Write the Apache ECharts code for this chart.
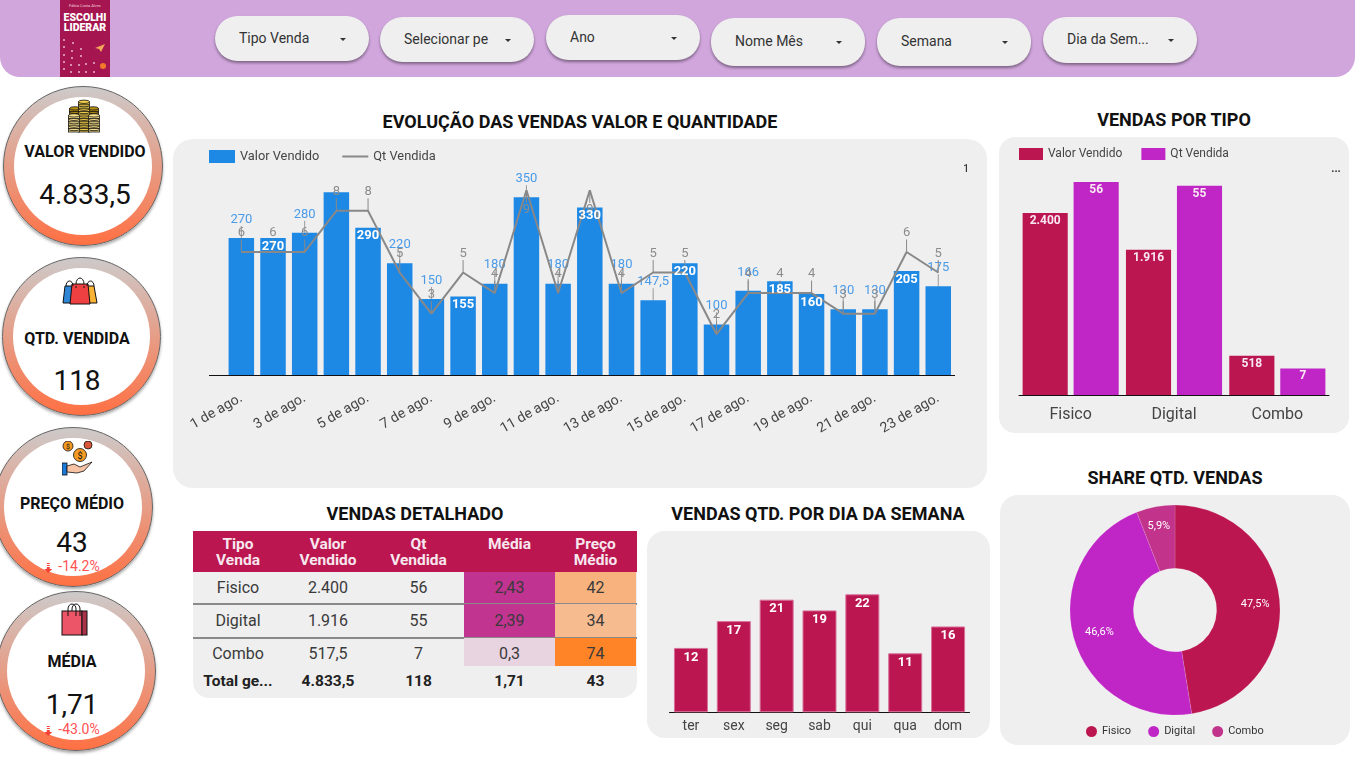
<!DOCTYPE html>
<html lang="pt-BR"><head><meta charset="utf-8">
<script src="https://cdn.jsdelivr.net/npm/echarts@6/dist/echarts.min.js"></script>
<style>
html,body{margin:0;padding:0;background:#fff;width:1355px;height:757px;overflow:hidden;font-family:Roboto,sans-serif}
.abs{position:absolute}
#hdr{left:0;top:0;width:1355px;height:77px;background:#d1a6dd;border-radius:0 0 20px 20px}
#book{left:60px;top:0;width:50px;height:77px;background:#a5154f;color:#fff;overflow:hidden}
.pill{position:absolute;width:154px;background:#efefef;border-radius:23px;box-shadow:0 2px 3px rgba(0,0,0,.4);font-size:14px;color:#333}
.pill span{position:absolute;left:24px;white-space:nowrap}
.pill i{position:absolute;left:125px;width:0;height:0;border-left:3px solid transparent;border-right:3px solid transparent;border-top:3px solid #333}
.panel{position:absolute;background:#efefef}
.title{position:absolute;font-weight:700;font-size:18px;color:#111;text-align:center;white-space:nowrap;transform:translate(-50%,-50%)}
.kpi{position:absolute;border-radius:50%;box-sizing:border-box;border:1px solid #666;background:linear-gradient(#cdcaca,#ff7043);box-shadow:0 2px 3px rgba(0,0,0,.35)}
.kpi .in{position:absolute;left:10px;top:10px;right:10px;bottom:10px;border-radius:50%;background:#fff}
.t{position:absolute;white-space:nowrap;transform:translate(-50%,-50%)}
.kl{font-weight:700;font-size:16px;color:#111}
.kv{font-size:28px;color:#111}
.kd{font-size:14px;color:#ff5252;display:flex;align-items:center;gap:6px}
#tbl{position:absolute;left:193px;top:531px;width:444px;height:167px;background:#efefef;border-radius:0 0 16px 16px;overflow:hidden;font-size:16px;color:#3a3a3a}
#tbl div{position:absolute;display:flex;align-items:center;justify-content:center;text-align:center;box-sizing:border-box}
.chart{position:absolute}
</style></head><body>
<div id="hdr" class="abs"></div>
<div id="book" class="abs">
 <div class="t" style="left:25px;top:5px;font-size:4px;color:#f3c9d6">Fábia Costa Alves</div>
 <div style="position:absolute;left:0;width:50px;top:13px;text-align:center;font-weight:900;font-size:10.5px;line-height:9.500px">ESCOLHI<br>LIDERAR</div>
 <svg width="50" height="77" style="position:absolute;left:0;top:0"><g fill="#e9b7c9"><circle cx="4" cy="40" r="1"/><circle cx="13" cy="43" r="1"/><circle cx="4" cy="47" r="1"/><circle cx="12" cy="51" r="1"/><circle cx="21" cy="49" r="1"/><circle cx="4" cy="55" r="1"/><circle cx="12" cy="58" r="1"/><circle cx="21" cy="56" r="1"/><circle cx="4" cy="62" r="1"/><circle cx="11" cy="65" r="1"/><circle cx="19" cy="65" r="1"/><circle cx="26" cy="64" r="1"/><circle cx="34" cy="63" r="1"/><circle cx="4" cy="69" r="1"/><circle cx="11" cy="72" r="1"/><circle cx="19" cy="72" r="1"/><circle cx="26" cy="72" r="1"/><circle cx="34" cy="72" r="1"/></g><path d="M35 48l10-4-4 8-2-3z" fill="#f2a65a"/><circle cx="43" cy="66" r="3" fill="#f07a2a"/></svg>
</div>
<div id="pills"></div>

<div class="panel" style="left:173px;top:139px;width:814px;height:349px;border-radius:20px"></div>
<div class="panel" style="left:999px;top:137px;width:350px;height:296px;border-radius:16px"></div>
<div class="panel" style="left:647px;top:531px;width:343px;height:207px;border-radius:18px"></div>
<div class="panel" style="left:1000px;top:495px;width:350px;height:250px;border-radius:18px"></div>

<div class="title" style="left:580px;top:121px">EVOLUÇÃO DAS VENDAS VALOR E QUANTIDADE</div>
<div class="title" style="left:1174px;top:119px">VENDAS POR TIPO</div>
<div class="title" style="left:415px;top:513px">VENDAS DETALHADO</div>
<div class="title" style="left:818px;top:513px">VENDAS QTD. POR DIA DA SEMANA</div>
<div class="title" style="left:1175px;top:477px">SHARE QTD. VENDAS</div>

<div id="kpis"></div>
<div id="tbl"></div>

<div id="cMain" class="chart" style="left:173px;top:139px;width:814px;height:349px"></div>
<div class="abs" style="left:209px;top:375px;width:746px;height:1px;background:#111"></div>
<div class="t" style="left:966px;top:168px;font-size:10px;color:#333;font-weight:500">1</div>
<div id="cType" class="chart" style="left:999px;top:137px;width:350px;height:296px"></div>
<div class="t" style="left:1336px;top:168px;font-size:11px;color:#333;font-weight:700">...</div>
<div id="cDay" class="chart" style="left:647px;top:531px;width:343px;height:207px"></div>
<div id="cPie" class="chart" style="left:1000px;top:495px;width:350px;height:250px"></div>

<script>
// ---- data ----
const days = ['1 de ago.','2 de ago.','3 de ago.','4 de ago.','5 de ago.','6 de ago.','7 de ago.','8 de ago.','9 de ago.','10 de ago.','11 de ago.','12 de ago.','13 de ago.','14 de ago.','15 de ago.','16 de ago.','17 de ago.','18 de ago.','19 de ago.','20 de ago.','21 de ago.','22 de ago.','23 de ago.'];
const dailyValor = [270,270,280,360,290,220,150,155,180,350,180,330,180,147.5,220,100,166,185,160,130,130,205,175];
const dailyQt = [6,6,6,8,8,5,3,5,4,9,4,9,4,5,5,2,4,4,4,3,3,6,5];
const tipos = ['Fisico','Digital','Combo'];
const tipoValor = [2400,1916,517.5];
const tipoValorTexto = ['2.400','1.916','517,5'];
const tipoQt = [56,55,7];
const tipoMedia = ['2,43','2,39','0,3'];
const tipoPreco = ['42','34','74'];
const semana = ['ter','sex','seg','sab','qui','qua','dom'];
const semanaQt = [12,17,21,19,22,11,16];
const shareLabels = ['47,5%','46,6%','5,9%'];
const tableHead = ['Tipo<br>Venda','Valor<br>Vendido','Qt<br>Vendida','Média','Preço<br>Médio'];
const tableTotal = ['Total ge...','4.833,5','118','1,71','43'];
const filtros = ['Tipo Venda','Selecionar pe','Ano','Nome Mês','Semana','Dia da Sem...'];
const kpiNames = ['VALOR VENDIDO','QTD. VENDIDA','PREÇO MÉDIO','MÉDIA'];
const kpiValues = ['4.833,5','118','43','1,71'];
const kpiDeltas = ['','','-14.2%','-43.0%'];

// ---- styling tables ----
const FONT='Roboto';
const ROSE='#bc1651', PURPLE='#c026c6', MAG='#c2338b', BLUE='#1e88e5';
const insideIdx=[1,4,7,11,14,17,18,21], hiddenIdx=[3], qtBelowIdx=[9,11];
const fmt=v=>Math.round(v).toLocaleString('de-DE');
const fmtDec=v=>String(v).replace('.',',');

// filters
const pillGeo=[[215,16,45],[380,17,45],[546,15,45],[711,18,48],[877,18,48],[1043,17,46]];
document.getElementById('pills').innerHTML=filtros.map((f,i)=>{const[x,y,h]=pillGeo[i];
 return `<div class="pill" style="left:${x}px;top:${y}px;height:${h}px"><span style="top:${h/2-9}px">${f}</span><i style="top:${h/2-1}px"></i></div>`}).join('');

// KPI icons
const stack=(x,yb,n,fill)=>{let s='';for(let k=0;k<n;k++){const y=yb-k*3.4;s+=`<rect x="${x-5.5}" y="${y-3}" width="11" height="3" fill="${fill}" stroke="#111" stroke-width=".8"/><ellipse cx="${x}" cy="${y-3}" rx="5.5" ry="1.700" fill="${fill}" stroke="#111" stroke-width=".8"/>`}return s};
const ic=[
 `<svg width="34" height="34" viewBox="0 0 34 34">${stack(8,26,5,'#b8900f')}${stack(26,26,5,'#b8900f')}${stack(17,33,9,'#f2cf4a')}${stack(7,33,5,'#f8e08a')}${stack(27,33,5,'#f8e08a')}</svg>`,
 `<svg width="36" height="28" viewBox="0 0 36 28"><path d="M3 9h9v17H1z" fill="#2f86d6" stroke="#111"/><path d="M25 9h7l3 17H25z" fill="#f9b233" stroke="#111"/><path d="M10 7h16l2 20H8z" fill="#ee4040" stroke="#111"/><path d="M4 9a3.500 5 0 0 1 7 0M14 7a4 6 0 0 1 8 0M25 9a3.500 5 0 0 1 7 0" fill="none" stroke="#111"/><path d="M14 9v2M22 9v2" stroke="#111"/></svg>`,
 `<svg width="32" height="36" viewBox="0 0 32 36"><circle cx="6" cy="5" r="5" fill="#f59a23" stroke="#111" stroke-width=".8"/><circle cx="26" cy="4" r="4" fill="#d9583b" stroke="#111" stroke-width=".8"/><circle cx="18" cy="14" r="6.500" fill="#f59a23" stroke="#111" stroke-width=".8"/><text x="18" y="17.500" font-size="9" text-anchor="middle" fill="#111">$</text><text x="6" y="8" font-size="7" text-anchor="middle" fill="#111">$</text><rect x="0" y="22" width="5" height="12" fill="#1e78d8" stroke="#111" stroke-width=".8"/><path d="M5 25l7-2 6 3 12-5-8 9-7 2-10-1z" fill="#f7c3a5" stroke="#111" stroke-width=".8"/></svg>`,
 `<svg width="28" height="34" viewBox="0 0 28 34"><rect x="1" y="8" width="20" height="24" fill="#ec5468" stroke="#111"/><rect x="21" y="8" width="5" height="24" fill="#a83248" stroke="#111"/><path d="M7 13v-7a4 5 0 0 1 8 0v7M11 8v-2a4 5 0 0 1 8 0v7" fill="none" stroke="#111"/></svg>`];
const arrow=`<svg width="8" height="10" viewBox="0 0 8 10" style="margin-top:3px"><path d="M2.500 0h3v1h-3zM2.500 2h3v1h-3zM2.500 4h3v2H8L4 10 0 6h2.500z" fill="#f44336"/></svg>`;
const kpiGeo=[{c:[83,165.5],r:80,l:[85,151],v:[85,194],i:[84,118]},
 {c:[81,336.5],r:79.5,l:[77,338],v:[77,380],i:[80,293]},
 {c:[73,507],r:80,l:[72,503],v:[72,542],i:[78,461],d:[72,566]},
 {c:[76,670.5],r:80,l:[72,661],v:[72,704],i:[75,622],d:[72,729]}];
document.getElementById('kpis').innerHTML=kpiNames.map((n,i)=>{const g=kpiGeo[i];
 let h=`<div class="kpi" style="left:${g.c[0]-g.r}px;top:${g.c[1]-g.r}px;width:${g.r*2}px;height:${g.r*2}px"><div class="in"></div></div>`;
 h+=`<div class="t" style="left:${g.i[0]}px;top:${g.i[1]}px">${ic[i]}</div>`;
 h+=`<div class="t kl" style="left:${g.l[0]}px;top:${g.l[1]}px">${n}</div>`;
 h+=`<div class="t kv" style="left:${g.v[0]}px;top:${g.v[1]}px">${kpiValues[i]}</div>`;
 if(kpiDeltas[i])h+=`<div class="t kd" style="left:${g.d[0]}px;top:${g.d[1]}px">${arrow}<span>${kpiDeltas[i]}</span></div>`;
 return h}).join('');

// table
(function(){
 const colX=[0,90,180,271,362,443], rowY=[41,73,107,135,167], nudge=['padding-bottom:2px','padding-bottom:2px','padding-top:2px'];
 const mediaBg=['#c03390','#c13591','#e8d3e0'], precoBg=['#f7b27e','#f6bb8f','#ff8427'];
 const cell=(c,r0,r1,html,st)=>`<div style="left:${colX[c]}px;width:${colX[c+1]-colX[c]}px;top:${r0}px;height:${r1-r0}px;${st||''}">${html}</div>`;
 let h=`<div style="left:0;top:0;width:444px;height:41px;background:${ROSE}"></div>`;
 tableHead.forEach((t,c)=>h+=cell(c,5,38,t,`color:#f7e7ee;font-weight:700;font-size:15.500px;line-height:16px;align-items:flex-start`));
 tipos.forEach((t,r)=>{const a=rowY[r],b=rowY[r+1];
  [t,tipoValorTexto[r],tipoQt[r]].forEach((v,c)=>h+=cell(c,a,b,v,nudge[r]));
  h+=cell(3,a,b,tipoMedia[r],`background:${mediaBg[r]};${nudge[r]}`);
  h+=cell(4,a,b,tipoPreco[r],`background:${precoBg[r]};${nudge[r]}`);
  if(r<2)h+=`<div style="left:0;top:${b-1}px;width:444px;height:1.500px;background:#8a8a8a"></div>`;
 });
 tableTotal.forEach((t,c)=>h+=cell(c,135,165,t,'font-weight:700;font-size:15.500px;color:#222'));
 document.getElementById('tbl').innerHTML=h;
})();

const txt=(s,c,extra)=>Object.assign({fontFamily:FONT,fontSize:s,color:c},extra||{});

// main chart
const cMain=echarts.init(document.getElementById('cMain'));
cMain.setOption({
 animation:false,
 legend:{left:31,top:6,itemWidth:26,itemHeight:13,itemGap:22,textStyle:txt(12.8,'#444'),
   data:[{name:'Valor Vendido',icon:'rect'},{name:'Qt Vendida',itemStyle:{opacity:0}}]},
 grid:{left:52.5,top:51.3,width:728.6,height:185},
 xAxis:{type:'category',data:days,axisLine:{show:false},axisTick:{show:false},
   axisLabel:Object.assign({interval:1,rotate:30,margin:22,hideOverlap:false},txt(14,'#444'))},
 yAxis:[{type:'value',min:0,max:363.6,show:false,splitLine:{show:false}},{type:'value',min:0,max:9,show:false,splitLine:{show:false}}],
 series:[{
   name:'Valor Vendido',type:'bar',barWidth:25.5,barGap:'-100%',itemStyle:{color:BLUE},
   data:dailyValor.map((v,i)=>{const ins=insideIdx.includes(i),hid=hiddenIdx.includes(i);
     return {value:v,
       label:{show:!hid&&!ins,position:'top',distance:5,formatter:()=>fmtDec(v),
         fontFamily:FONT,fontSize:13,color:'#4a9be8'},
       labelLine:{show:!ins&&!hid,lineStyle:{color:'#999',width:1}}}}),
   labelLayout:p=>({dy:-7})
  },{
   name:'Qt Vendida',type:'line',yAxisIndex:1,symbol:'circle',symbolSize:1,showSymbol:true,z:3,
   lineStyle:{color:'#888',width:2},itemStyle:{color:'#888'},
   data:dailyQt.map((v,i)=>({value:v,label:{show:true,position:qtBelowIdx.includes(i)?'bottom':'top',
     fontFamily:FONT,fontSize:13,color:'#8c8c8c'}})),
   labelLine:{show:true,lineStyle:{color:'#888',width:1}},
   labelLayout:p=>qtBelowIdx.includes(p.dataIndex)?{dy:7}:{dy:-7}
  },{
   // white labels that sit above the line, same values as the bars
   name:'rotulos',type:'bar',barWidth:25.5,barGap:'-100%',z:4,silent:true,itemStyle:{color:'transparent'},
   data:dailyValor.map((v,i)=>({value:v,label:{show:insideIdx.includes(i),position:'insideTop',distance:2,
     formatter:()=>fmtDec(v),fontFamily:FONT,fontSize:13,fontWeight:700,color:'#fff'}}))
  }]
});

// type chart
const cType=echarts.init(document.getElementById('cType'));
const insLbl=(s,f)=>({show:true,position:'insideTop',distance:2,fontFamily:FONT,fontSize:s,fontWeight:700,color:'#f8e8f0',formatter:f});
cType.setOption({
 animation:false,
 legend:{left:15,top:6,itemWidth:24,itemHeight:12,itemGap:19,icon:'rect',textStyle:txt(12,'#444')},
 grid:{left:20,top:45,width:310,height:213},
 xAxis:{type:'category',data:tipos,axisTick:{show:false},axisLine:{lineStyle:{color:'#111',width:1}},
   axisLabel:Object.assign({margin:12},txt(16,'#444'))},
 yAxis:[{type:'value',min:0,max:2810,show:false,splitLine:{show:false}},{type:'value',min:0,max:56,show:false,splitLine:{show:false}}],
 series:[
  {name:'Valor Vendido',type:'bar',data:tipoValor,barGap:'13%',barCategoryGap:'7%',itemStyle:{color:ROSE},label:insLbl(12,p=>fmt(p.value))},
  {name:'Qt Vendida',type:'bar',yAxisIndex:1,data:tipoQt,barGap:'13%',barCategoryGap:'7%',itemStyle:{color:PURPLE},label:insLbl(12,p=>p.value)}
 ]
});

// weekday chart
const cDay=echarts.init(document.getElementById('cDay'));
cDay.setOption({
 animation:false,
 grid:{left:22.5,top:63.3,width:300,height:118},
 xAxis:{type:'category',data:semana,axisTick:{show:false},axisLine:{lineStyle:{color:'#111',width:1}},
   axisLabel:Object.assign({margin:7},txt(14,'#444'))},
 yAxis:{type:'value',min:0,max:22,show:false,splitLine:{show:false}},
 series:[{type:'bar',barWidth:34,data:semanaQt,itemStyle:{color:ROSE,borderColor:'#d8709a',borderWidth:1},
   label:{show:true,position:'insideTop',distance:3,fontFamily:FONT,fontSize:13,fontWeight:700,color:'#fff'}}]
});

// donut
const cPie=echarts.init(document.getElementById('cPie'));
const pieNudge=[[4,0],[-2,2],[-2,-9]];
cPie.setOption({
 animation:false,
 color:[ROSE,PURPLE,MAG],
 legend:{left:81,top:226,icon:'circle',itemWidth:11,itemHeight:11,itemGap:17,itemStyle:{borderWidth:0},textStyle:txt(11,'#333')},
 series:[{type:'pie',center:[175,115],radius:[41.7,105],startAngle:90,clockwise:true,
   data:tipos.map((t,i)=>({name:t,value:tipoQt[i]})),
   itemStyle:{borderColor:'rgba(255,255,255,.25)',borderWidth:.5},
   label:{show:true,position:'inside',fontFamily:FONT,fontSize:11,color:'#fff',formatter:p=>shareLabels[p.dataIndex]},
   labelLine:{show:false},
   labelLayout:p=>({dx:pieNudge[p.dataIndex][0],dy:pieNudge[p.dataIndex][1]})}]
});
</script>
</body></html>
